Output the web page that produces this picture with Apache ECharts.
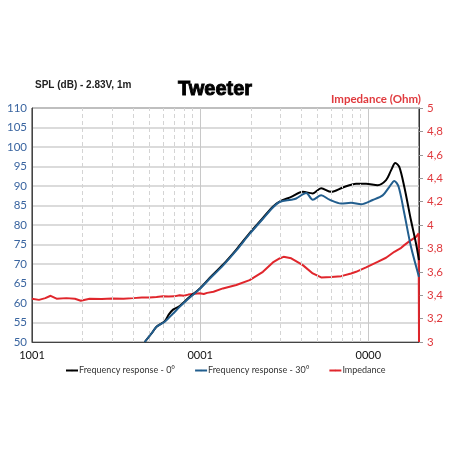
<!DOCTYPE html>
<html>
<head>
<meta charset="utf-8">
<script src="https://cdn.jsdelivr.net/npm/echarts@6/dist/echarts.min.js"></script>
<style>html,body{margin:0;padding:0;background:#fff}#c{width:452px;height:452px}</style>
</head>
<body>
<div id="c"></div>
<script>
// ---- data ----
var freq0 = [468, 520, 550, 615, 650, 690, 755, 847, 1000, 1138, 1365, 1640, 1967, 2360, 2705, 2965, 3477, 4077, 4670, 5240, 6010, 7040, 8450, 9690, 11350, 12740, 13640, 14460, 15270, 16350, 17920, 19190, 20000];
var spl0  = [50, 52.5, 53.9, 55.3, 57.0, 58.3, 59.2, 61.2, 63.8, 66.4, 69.8, 73.7, 77.9, 81.8, 84.7, 86.0, 87.2, 88.5, 88.1, 89.4, 88.5, 89.6, 90.6, 90.6, 90.2, 91.5, 94.0, 95.9, 94.9, 89.8, 81.2, 75.3, 71.0];
var freq30 = [468, 520, 550, 615, 690, 755, 847, 1000, 1138, 1365, 1640, 1967, 2360, 2705, 2965, 3477, 3724, 4270, 4670, 5240, 5870, 6890, 7890, 9050, 10610, 12160, 13330, 14270, 15130, 16350, 17920, 20000];
var spl30  = [50, 52.5, 53.9, 55.2, 57.3, 59.0, 61.0, 63.7, 66.2, 69.6, 73.5, 77.7, 81.6, 84.5, 85.9, 86.5, 86.8, 88.2, 86.5, 87.6, 86.5, 85.5, 85.7, 85.3, 86.4, 87.6, 89.8, 91.3, 89.8, 83.0, 74.4, 66.7];
var freqZ = [100, 110, 120, 129, 140, 160, 180, 195, 220, 260, 300, 350, 400, 450, 500, 550, 600, 650, 700, 755, 800, 850, 900, 993, 1050, 1100, 1200, 1365, 1640, 1967, 2360, 2705, 2965, 3130, 3477, 4077, 4670, 5240, 6010, 6890, 7890, 8450, 9690, 11350, 12740, 14270, 15500, 16350, 17500, 19190, 19900, 20000];
var impZ  = [3.37, 3.36, 3.375, 3.395, 3.37, 3.375, 3.37, 3.353, 3.37, 3.368, 3.372, 3.37, 3.375, 3.38, 3.38, 3.385, 3.39, 3.388, 3.39, 3.40, 3.395, 3.405, 3.41, 3.416, 3.41, 3.42, 3.43, 3.458, 3.487, 3.529, 3.600, 3.680, 3.714, 3.728, 3.715, 3.657, 3.586, 3.552, 3.556, 3.563, 3.586, 3.600, 3.638, 3.685, 3.720, 3.771, 3.800, 3.828, 3.860, 3.899, 3.928, 3.0];
var xTickValues = [100, 1000, 10000];
var xTickLabels = ['1001', '0001', '0000'];
var minorGridFreqs = [200, 300, 400, 500, 600, 700, 800, 900, 2000, 3000, 4000, 5000, 6000, 7000, 8000, 9000];
var seriesNames = ['Frequency response - 0°', 'Frequency response - 30°', 'Impedance'];

function pairs(xs, ys) { return xs.map(function (x, i) { return [x, ys[i]]; }); }

var chart = echarts.init(document.getElementById('c'));
var font = 'Lato, "Open Sans", sans-serif';
chart.setOption({
  animation: false,
  backgroundColor: '#fff',
  textStyle: { fontFamily: font },
  title: [
    { text: 'Tweeter', left: 173, top: 74, textStyle: { fontFamily: '"Liberation Sans", Arial, sans-serif', fontWeight: 'bold', fontSize: 20, color: '#000', textBorderColor: '#000', textBorderWidth: 0.9 } },
    { text: 'SPL (dB) - 2.83V, 1m', left: 30, top: 75, textStyle: { fontFamily: '"Liberation Sans", Arial, sans-serif', fontWeight: 'bold', fontSize: 10, color: '#222' } },
    { text: 'Impedance (Ohm)', right: 26, top: 88, textStyle: { fontFamily: font, fontWeight: 'bold', fontSize: 11.5, color: '#e03a3e' } }
  ],
  legend: {
    bottom: 72, left: 60, itemWidth: 12, itemHeight: 2, itemGap: 19,
    textStyle: { fontFamily: font, fontSize: 9, color: '#333', padding: [0, 0, 0, -4] },
    data: seriesNames
  },
  grid: { left: 32, right: 33, top: 108, bottom: 110, show: true, borderColor: '#222', borderWidth: 1 },
  xAxis: {
    type: 'log', logBase: 10, min: 100, max: 20000,
    axisLine: { lineStyle: { color: '#444' } },
    axisTick: { show: false },
    axisLabel: {
      color: '#111', fontSize: 11, margin: 8,
      formatter: function (v) { var i = xTickValues.indexOf(Math.round(v)); return i >= 0 ? xTickLabels[i] : ''; }
    },
    splitLine: { show: true, lineStyle: { color: '#c8c8c8', width: 1 } }
  },
  yAxis: [
    {
      type: 'value', min: 50, max: 110, interval: 5,
      axisLine: { show: true, lineStyle: { color: '#444' } },
      axisTick: { show: false },
      axisLabel: { color: '#3a65a0', fontSize: 11.5, margin: 5 },
      splitLine: { show: true, lineStyle: { color: '#cfcfcf', width: 1.5 } }
    },
    {
      type: 'value', min: 3, max: 5, interval: 0.2, position: 'right',
      axisLine: { show: true, lineStyle: { color: '#333' } },
      axisTick: { show: true, length: 4, lineStyle: { color: '#999' } },
      axisLabel: { color: '#e03a3e', fontSize: 11.5, margin: 8,
        formatter: function (v) { return String(+v.toFixed(1)).replace('.', ','); } },
      splitLine: { show: false }
    }
  ],
  series: [
    {
      name: seriesNames[0], type: 'line', data: pairs(freq0, spl0), symbol: 'none', smooth: 0.3,
      lineStyle: { color: '#000', width: 2 }, itemStyle: { color: '#000' }, z: 4,
      markLine: {
        silent: true, symbol: 'none', label: { show: false },
        lineStyle: { color: '#d4d4d4', type: [4, 3], width: 1 },
        data: minorGridFreqs.map(function (f) { return { xAxis: f }; })
      }
    },
    {
      name: seriesNames[1], type: 'line', data: pairs(freq30, spl30), symbol: 'none', smooth: 0.3,
      lineStyle: { color: '#225e8e', width: 2 }, itemStyle: { color: '#225e8e' }, z: 5
    },
    {
      name: seriesNames[2], type: 'line', yAxisIndex: 1, data: pairs(freqZ, impZ), symbol: 'none',
      lineStyle: { color: '#e0262c', width: 2 }, itemStyle: { color: '#e0262c' }, z: 3
    }
  ]
});
</script>
</body>
</html>
